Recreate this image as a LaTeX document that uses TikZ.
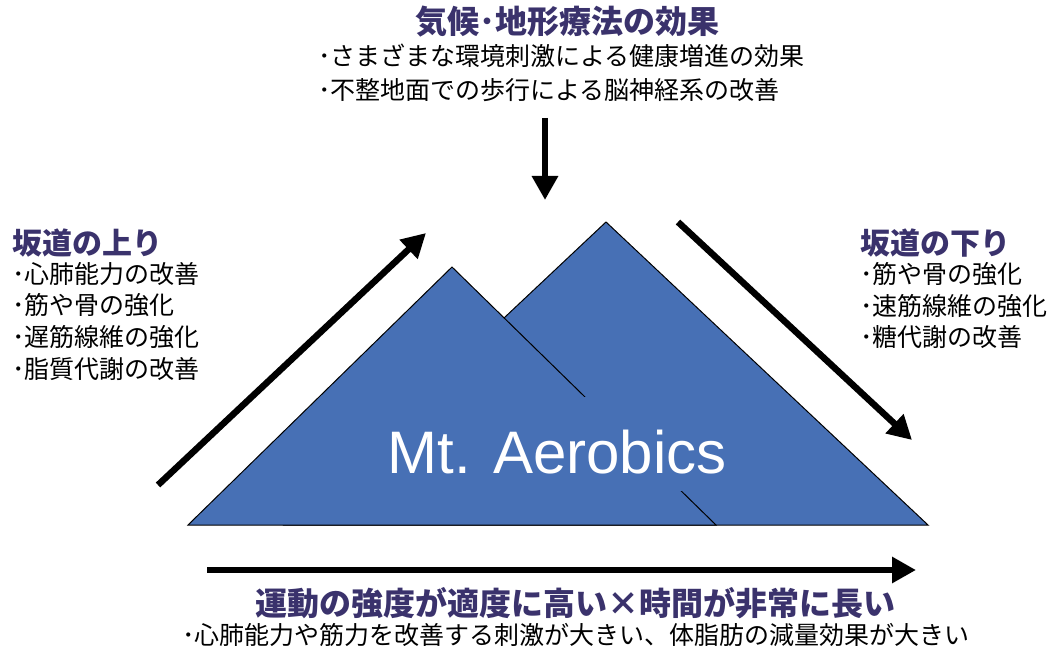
\documentclass[tikz,border=0pt]{standalone}
\usepackage{fontspec}
\setmainfont{Noto Sans CJK JP}
\newfontfamily\arialfont{Liberation Sans}
\usetikzlibrary{arrows.meta}
\definecolor{mtblue}{RGB}{71,112,181}
\definecolor{headc}{RGB}{58,50,108}
\begin{document}
\begin{tikzpicture}[x=1pt,y=-1pt,
  mtn/.style={fill=mtblue,draw=black,line width=1pt,line join=miter},
  bigarrow/.style={line width=6.5pt,-{Triangle[length=24pt,width=25pt]}},
  headtxt/.style={font=\fontsize{30}{36}\selectfont\bfseries,text=headc,inner sep=0pt},
  itemtxt/.style={font=\fontsize{25}{31.7}\selectfont,inner sep=0pt,align=left}]
\useasboundingbox (0,0) rectangle (1057,647);
% mountains
\draw[mtn] (284,525) -- (606,222) -- (928,525) -- cycle;
\draw[mtn] (188,525) -- (452,267) -- (716,525) -- cycle;
\node[fill=mtblue,text=white,font=\arialfont\fontsize{60}{60}\selectfont,inner xsep=4pt,inner ysep=0pt,text height=76pt,text depth=18pt,anchor=base] (mt) at (557,473) {Mt. Aerobics};
% arrow end points
\coordinate (upS) at (158,485);
\coordinate (upE) at (426,233);
\coordinate (dnS) at (678,222);
\coordinate (dnE) at (912,440);
\coordinate (topS) at (545,118);
\coordinate (topE) at (545,200);
\coordinate (botS) at (207,570);
\coordinate (botE) at (916,570);
\draw[bigarrow] (upS) -- (upE);
\draw[bigarrow] (dnS) -- (dnE);
\draw[bigarrow] (topS) -- (topE);
\draw[bigarrow] (botS) -- (botE);
% top text
\node[headtxt,font=\fontsize{32}{36}\selectfont\bfseries,anchor=center] (title) at (567,22) {気候･地形療法の効果};
\node[itemtxt,anchor=west] (t1) at (318,56) {･さまざまな環境刺激による健康増進の効果};
\node[itemtxt,anchor=west] (t2) at (318,90) {･不整地面での歩行による脳神経系の改善};
% left text
\node[headtxt,anchor=west] (lh) at (12,243) {坂道の上り};
\node[itemtxt,anchor=north west] (ll) at (12,262) {･心肺能力の改善\\･筋や骨の強化\\･遅筋線維の強化\\･脂質代謝の改善};
% right text
\node[headtxt,anchor=west] (rh) at (860,243) {坂道の下り};
\node[itemtxt,anchor=north west] (rl) at (860,262) {･筋や骨の強化\\･速筋線維の強化\\･糖代謝の改善};
% bottom text
\node[headtxt,font=\fontsize{32}{36}\selectfont\bfseries,anchor=center] (bh) at (575,603) {運動の強度が適度に高い×時間が非常に長い};
\node[itemtxt,anchor=west] (bl) at (182,635) {･心肺能力や筋力を改善する刺激が大きい、体脂肪の減量効果が大きい};
\end{tikzpicture}
\end{document}
